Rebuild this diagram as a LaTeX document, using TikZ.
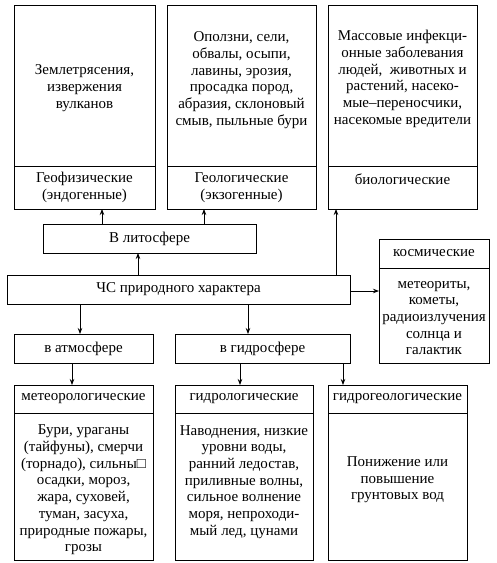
\documentclass[tikz,border=0pt]{standalone}
\usepackage{fontspec}
\setmainfont{Liberation Serif}
\usetikzlibrary{arrows.meta}
\begin{document}
\begin{tikzpicture}[x=1pt,y=-1pt,
  box/.style={draw, line width=0.8pt, inner sep=0pt, outer sep=0pt},
  txt/.style={align=center, font=\fontsize{15}{16.7}\selectfont, inner sep=0pt},
  arr/.style={line width=0.8pt, -{Stealth[length=6pt,width=4.5pt]}},
  divider/.style={line width=0.8pt}
]
\useasboundingbox (0,0) rectangle (496,563);
% boxes
\node[box, minimum width=141, minimum height=204] (b1) at (84.5,107) {};
\node[box, minimum width=149, minimum height=204] (b2) at (241.5,107) {};
\node[box, minimum width=149, minimum height=204] (b3) at (402.5,107) {};
\node[box, minimum width=213, minimum height=29] (lith) at (149.5,238.5) {};
\node[box, minimum width=343, minimum height=29] (chs) at (178.5,289.5) {};
\node[box, minimum width=110, minimum height=124] (kosm) at (434,301) {};
\node[box, minimum width=139, minimum height=29] (atm) at (83.5,348.5) {};
\node[box, minimum width=175, minimum height=29] (hyd) at (262.5,348.5) {};
\node[box, minimum width=139, minimum height=175] (met) at (83.5,472.5) {};
\node[box, minimum width=138, minimum height=175] (hydrol) at (244,472.5) {};
\node[box, minimum width=139, minimum height=175] (hgeo) at (397.5,472.5) {};
% dividers
\draw[divider] (b1.west |- 0,166) -- (b1.east |- 0,166);
\draw[divider] (b2.west |- 0,166) -- (b2.east |- 0,166);
\draw[divider] (b3.west |- 0,166) -- (b3.east |- 0,166);
\draw[divider] (kosm.west |- 0,268) -- (kosm.east |- 0,268);
\draw[divider] (met.west |- 0,413) -- (met.east |- 0,413);
\draw[divider] (hydrol.west |- 0,413) -- (hydrol.east |- 0,413);
\draw[divider] (hgeo.west |- 0,413) -- (hgeo.east |- 0,413);
% texts
\node[txt] (t1) at (84.5,88) {Землетрясения,\\извержения\\вулканов};
\node[txt] (t1b) at (84.5,187.5) {Геофизические\\(эндогенные)};
\node[txt] (t2) at (241.5,80) {Оползни, сели,\\обвалы, осыпи,\\лавины, эрозия,\\просадка пород,\\абразия, склоновый\\смыв, пыльные бури};
\node[txt] (t2b) at (241.5,187.5) {Геологические\\(экзогенные)};
\node[txt] (t3) at (402.5,79) {Массовые инфекци-\\онные заболевания\\людей,\ \ животных и\\растений, насеко-\\мые--переносчики,\\насекомые вредители};
\node[txt] (t3b) at (402.5,179) {биологические};
\node[txt] (tl) at (149.5,238.5) {В литосфере};
\node[txt] (tc) at (178.5,289.5) {ЧС природного характера};
\node[txt] (tk) at (434,253.5) {космические};
\node[txt] (tkb) at (434,318) {метеориты,\\кометы,\\радиоизлучения\\солнца и\\галактик};
\node[txt] (ta) at (83.5,348.5) {в атмосфере};
\node[txt] (th) at (262.5,348.5) {в гидросфере};
\node[txt] (tm) at (83.5,399) {метеорологические};
\node[txt] (tmb) at (83.5,490) {Бури, ураганы\\(тайфуны), смерчи\\(торнадо), сильны□\\осадки, мороз,\\жара, суховей,\\туман, засуха,\\природные пожары,\\грозы};
\node[txt] (thl) at (244,399) {гидрологические};
\node[txt] (thlb) at (244,482) {Наводнения, низкие\\уровни воды,\\ранний ледостав,\\приливные волны,\\сильное волнение\\моря, непроходи-\\мый лед, цунами};
\node[txt] (thg) at (397.5,399) {гидрогеологические};
\node[txt] (thgb) at (397.5,480) {Понижение или\\повышение\\грунтовых вод};
% arrows
\draw[arr] (chs.north -| 138,0) -- (lith.south -| 138,0);
\draw[arr] (lith.north -| 102,0) -- (b1.south -| 102,0);
\draw[arr] (lith.north -| 204,0) -- (b2.south -| 204,0);
\draw[arr] (chs.north -| 336,0) -- (b3.south -| 336,0);
\draw[arr] (chs.east |- 0,291) -- (kosm.west |- 0,291);
\draw[arr] (chs.south -| 80,0) -- (atm.north -| 80,0);
\draw[arr] (chs.south -| 248,0) -- (hyd.north -| 248,0);
\draw[arr] (atm.south -| 72,0) -- (met.north -| 72,0);
\draw[arr] (hyd.south -| 240,0) -- (hydrol.north -| 240,0);
\draw[arr] (hyd.south -| 343,0) -- (hgeo.north -| 343,0);
\end{tikzpicture}
\end{document}
